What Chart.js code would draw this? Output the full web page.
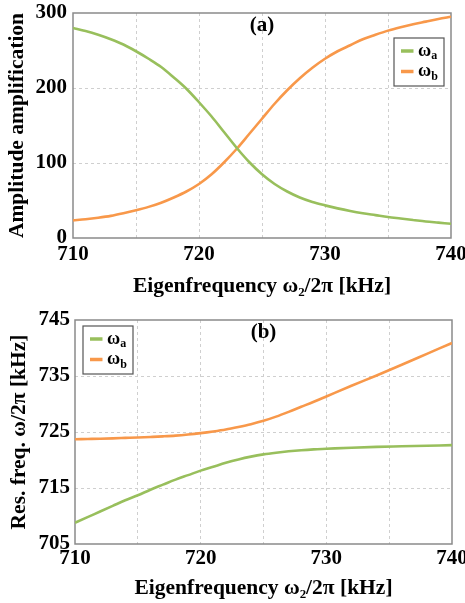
<!DOCTYPE html>
<html>
<head>
<meta charset="utf-8">
<script src="https://cdn.jsdelivr.net/npm/chart.js@4.4.1/dist/chart.umd.min.js"></script>
<style>
  html, body { margin: 0; padding: 0; background: #ffffff; }
  #wrapA { position: absolute; left: 0; top: 0; width: 465px; height: 300px; }
  #wrapB { position: absolute; left: 0; top: 300px; width: 465px; height: 303px; }
</style>
</head>
<body>
<div id="wrapA"><canvas id="chartA"></canvas></div>
<div id="wrapB"><canvas id="chartB"></canvas></div>
<script>
// (a) amplitude amplification vs. eigenfrequency of resonator 2 (kHz)
const ampFreq  = [710, 711, 712, 713, 714, 715, 716, 717, 718, 719, 720, 721, 722, 723, 724, 725,
                  726, 727, 728, 729, 730, 731, 732, 733, 734, 735, 736, 737, 738, 739, 740];
const ampModeA = [280, 276, 271, 265, 258, 249, 239, 228, 214, 199, 181, 162, 141, 120, 101, 85,
                  72, 62, 54, 48, 43.5, 39.5, 36, 33, 30.5, 28, 26, 24, 22, 20.5, 19];
const ampModeB = [23.5, 25, 27, 29.5, 33, 37, 41.5, 47, 54, 62, 72, 85, 101, 119, 139, 159,
                  179, 197, 213, 227, 239, 249, 257, 265, 271, 276.5, 281, 285, 288.5, 292, 295];

// (b) resonance frequencies of the coupled modes (kHz)
const resFreq  = [710, 711, 712, 713, 714, 715, 716, 717, 718, 719, 720, 721, 722, 723, 724, 725,
                  726, 727, 728, 729, 730, 732, 734, 736, 738, 740];
const resModeA = [708.8, 709.8, 710.8, 711.8, 712.8, 713.7, 714.7, 715.6, 716.5, 717.3, 718.1, 718.8, 719.5, 720.1, 720.6, 721.0,
                  721.3, 721.55, 721.75, 721.9, 722.0, 722.2, 722.35, 722.45, 722.55, 722.65];
const resModeB = [723.7, 723.75, 723.8, 723.87, 723.95, 724.03, 724.12, 724.22, 724.35, 724.55, 724.8, 725.1, 725.45, 725.9, 726.4, 727.0,
                  727.75, 728.6, 729.5, 730.4, 731.35, 733.25, 735.1, 737.0, 738.95, 740.9];

// tick labels
const freqTicks = [710, 720, 730, 740];
const ampTicks  = [0, 100, 200, 300];
const resTicks  = [705, 715, 725, 735, 745];

const seriesNames = ['ωa', 'ωb'];
const GREEN = '#98bf5c';
const ORANGE = '#f8984a';
const SERIF = "'Liberation Serif', 'Times New Roman', 'DejaVu Serif', serif";

const pairs = (xs, ys) => xs.map((x, i) => ({ x: x, y: ys[i] }));

// plot frame around the chart area
const framePlugin = {
  id: 'frame',
  beforeDatasetsDraw(chart) {
    const { ctx, chartArea: a } = chart;
    ctx.save();
    ctx.strokeStyle = '#8a8a8a';
    ctx.lineWidth = 1.5;
    ctx.strokeRect(a.left, a.top, a.right - a.left, a.bottom - a.top);
    ctx.restore();
  }
};

// boxed legend with subscripted mode names
const boxLegendPlugin = {
  id: 'boxLegend',
  afterDraw(chart, args, opts) {
    const { ctx, chartArea: a } = chart;
    const w = 50, h = 48;
    const left = opts.side === 'right' ? a.right - opts.dx - w : a.left + opts.dx;
    const top = a.top + opts.dy;
    ctx.save();
    ctx.fillStyle = '#ffffff';
    ctx.fillRect(left, top, w, h);
    ctx.strokeStyle = '#555555';
    ctx.lineWidth = 1.2;
    ctx.strokeRect(left, top, w, h);
    chart.data.datasets.forEach((ds, i) => {
      const y = top + 13 + i * 20.5;
      ctx.strokeStyle = ds.borderColor;
      ctx.lineWidth = 3.5;
      ctx.beginPath();
      ctx.moveTo(left + 7, y);
      ctx.lineTo(left + 19.5, y);
      ctx.stroke();
      ctx.fillStyle = '#000000';
      ctx.textBaseline = 'middle';
      ctx.textAlign = 'left';
      ctx.font = 'bold 18px ' + SERIF;
      const base = ds.label.charAt(0);
      const sub = ds.label.slice(1);
      ctx.fillText(base, left + 24, y);
      const bw = ctx.measureText(base).width;
      ctx.font = 'bold 12px ' + SERIF;
      ctx.fillText(sub, left + 24 + bw, y + 5);
    });
    ctx.restore();
  }
};

// panel letter at the top centre of the plot
const panelLabelPlugin = {
  id: 'panelLabel',
  afterDraw(chart, args, opts) {
    const { ctx, chartArea: a } = chart;
    ctx.save();
    ctx.fillStyle = '#000000';
    ctx.font = 'bold 21px ' + SERIF;
    ctx.textAlign = 'center';
    ctx.textBaseline = 'middle';
    ctx.fillText(opts.text, (a.left + a.right) / 2, a.top + 12.5);
    ctx.restore();
  }
};

function gridColor(min, max) {
  return (c) => {
    if (!c.tick) return 'rgba(0,0,0,0)';
    const v = c.tick.value;
    return (Math.abs(v - min) < 1e-6 || Math.abs(v - max) < 1e-6) ? 'rgba(0,0,0,0)' : '#cfcfcf';
  };
}

function makeChart(id, cfg) {
  const tickFont = { family: SERIF, size: 21, weight: 'bold', lineHeight: 1.2 };
  const titleFont = { family: SERIF, size: 21.5, weight: 'bold', lineHeight: 1.2 };
  return new Chart(document.getElementById(id), {
    type: 'line',
    data: {
      datasets: [
        { label: seriesNames[0], data: pairs(cfg.xs, cfg.a), borderColor: GREEN, backgroundColor: GREEN,
          borderWidth: 2.6, pointRadius: 0, cubicInterpolationMode: 'monotone', fill: false },
        { label: seriesNames[1], data: pairs(cfg.xs, cfg.b), borderColor: ORANGE, backgroundColor: ORANGE,
          borderWidth: 2.6, pointRadius: 0, cubicInterpolationMode: 'monotone', fill: false }
      ]
    },
    options: {
      responsive: true,
      maintainAspectRatio: false,
      animation: false,
      events: [],
      layout: { padding: cfg.padding },
      scales: {
        x: {
          type: 'linear',
          min: freqTicks[0], max: freqTicks[freqTicks.length - 1],
          border: { display: false, dash: [3, 3] },
          grid: { color: gridColor(freqTicks[0], freqTicks[freqTicks.length - 1]), drawTicks: false, lineWidth: 1 },
          ticks: {
            stepSize: 5,
            padding: cfg.xTickPad,
            color: '#000000',
            font: tickFont,
            maxRotation: 0,
            autoSkip: false,
            callback: (v) => freqTicks.includes(v) ? String(v) : ''
          },
          title: {
            display: true,
            text: 'Eigenfrequency ω₂/2π [kHz]',
            color: '#000000',
            font: titleFont,
            padding: { top: 0, bottom: cfg.xTitlePad }
          },
          afterFit: (s) => { s.height = cfg.xHeight; s.paddingLeft = 0; s.paddingRight = 0; }
        },
        y: {
          type: 'linear',
          min: cfg.yTicks[0], max: cfg.yTicks[cfg.yTicks.length - 1],
          border: { display: false, dash: [3, 3] },
          grid: { color: gridColor(cfg.yTicks[0], cfg.yTicks[cfg.yTicks.length - 1]), drawTicks: false, lineWidth: 1 },
          ticks: {
            stepSize: cfg.yTicks[1] - cfg.yTicks[0],
            padding: cfg.yTickPad,
            color: '#000000',
            font: tickFont,
            callback: (v) => cfg.yTicks.includes(v) ? String(v) : ''
          },
          title: {
            display: true,
            text: cfg.yTitle,
            color: '#000000',
            font: titleFont,
            padding: { top: cfg.yTitlePad, bottom: 0 }
          },
          afterFit: (s) => { s.width = cfg.yWidth; s.paddingTop = 0; s.paddingBottom = 0; }
        }
      },
      plugins: {
        legend: { display: false },
        tooltip: { enabled: false },
        boxLegend: cfg.legend,
        panelLabel: { text: cfg.panel }
      }
    },
    plugins: [framePlugin, boxLegendPlugin, panelLabelPlugin]
  });
}

makeChart('chartA', {
  xs: ampFreq, a: ampModeA, b: ampModeB,
  yTicks: ampTicks,
  yTitle: 'Amplitude amplification',
  panel: '(a)',
  padding: { top: 13, right: 14, bottom: 0, left: 0 },
  xHeight: 62, yWidth: 73,
  xTickPad: 4, yTickPad: 6,
  xTitlePad: 1, yTitlePad: 5,
  legend: { side: 'right', dx: 7, dy: 25 }
});

makeChart('chartB', {
  xs: resFreq, a: resModeA, b: resModeB,
  yTicks: resTicks,
  yTitle: 'Res. freq. ω/2π [kHz]',
  panel: '(b)',
  padding: { top: 20, right: 13, bottom: 0, left: 0 },
  xHeight: 59, yWidth: 75,
  xTickPad: 1.5, yTickPad: 5,
  xTitlePad: 2, yTitlePad: 7,
  legend: { side: 'left', dx: 8, dy: 6 }
});
</script>
</body>
</html>
